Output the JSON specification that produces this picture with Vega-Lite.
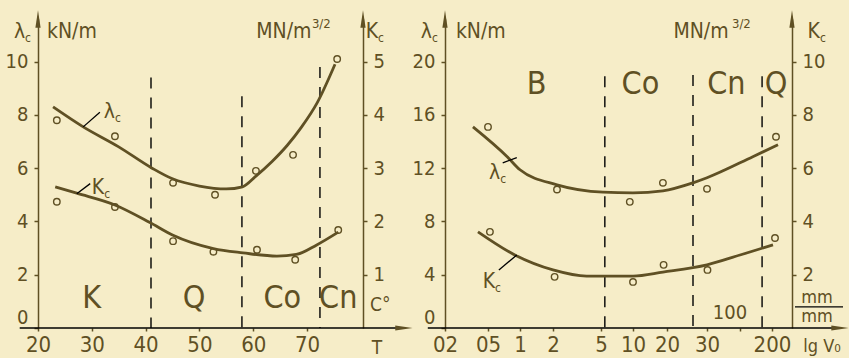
{
  "$schema": "https://vega.github.io/schema/vega-lite/v6.json",
  "background": "#f6edc8",
  "padding": {"left": 5, "top": 10, "right": 0, "bottom": 0},
  "spacing": 82,
  "bounds": "flush",
  "config": {
    "view": {"stroke": null},
    "mark": {"color": "#5f5024"},
    "text": {"font": "Liberation Sans Narrow, DejaVu Sans Condensed, sans-serif", "color": "#5f5024"},
    "axis": {
      "grid": false,
      "domainColor": "#5f5024",
      "domainWidth": 1.5,
      "tickColor": "#5f5024",
      "tickWidth": 1.5,
      "labelColor": "#5f5024",
      "labelFont": "Liberation Sans Narrow, DejaVu Sans Condensed, sans-serif",
      "labelFontSize": 20,
      "labelOverlap": false,
      "labelFlush": false
    }
  },
  "datasets": {
    "arrowsL": [{"x": 20, "y": 11.6, "dir": "up"}, {"x": 80.4, "y": 11.6, "dir": "up"}, {"x": 88, "y": 0, "dir": "right"}],
    "arrowsR": [{"x": 0.2, "y": 23.2, "dir": "up"}, {"x": 300, "y": 23.2, "dir": "up"}, {"x": 540, "y": 0, "dir": "right"}],
    "symL": [{"x": 17.6, "y": 11.13, "t": "λ", "s": "c"}, {"x": 83.2, "y": 11.13, "t": "K", "s": "c"}, {"x": 34.3, "y": 8.12, "t": "λ", "s": "c"}],
    "symLk": [{"x": 32.3, "y": 2.63, "t": "K", "s": "c"}],
    "symR": [{"x": 0.109, "y": 22.25, "t": "λ", "s": "c"}, {"x": 440, "y": 22.25, "t": "K", "s": "c"}, {"x": 0.69, "y": 11.65, "t": "λ", "s": "c"}],
    "symRk": [{"x": 0.61, "y": 1.73, "t": "K", "s": "c"}]
  },
  "hconcat": [
    {
      "width": 325,
      "height": 309,
      "encoding": {
        "x": {"field": "x", "type": "quantitative", "scale": {"domain": [20, 80.4], "nice": false, "zero": false},
              "axis": {"values": [20, 30, 40, 50, 60, 70], "domain": false, "title": null, "labelFontSize": 22, "tickSize": 3, "labelPadding": 3}}
      },
      "resolve": {"scale": {"y": "independent"}},
      "layer": [
        {
          "encoding": {"y": {"field": "y", "type": "quantitative", "scale": {"domain": [0, 11.6], "nice": false, "zero": false},
                             "axis": {"orient": "left", "values": [0, 2, 4, 6, 8, 10], "title": null, "tickSize": 4, "labelPadding": 6,
                                      "labelOffset": {"condition": {"test": "datum.value == 0", "value": -11}, "value": 0}}}},
          "layer": [
            {"data": {"values": [{"x": 41.0, "y": 9.4, "y2": 0}, {"x": 57.9, "y": 8.7, "y2": 0}, {"x": 72.4, "y": 9.8, "y2": 0}]},
             "mark": {"type": "rule", "strokeDash": [11, 9], "strokeWidth": 1.4}, "encoding": {"y2": {"field": "y2"}}},
            {"data": {"values": [{"x": 16.6, "x2": 88, "y": 0}]},
             "mark": {"type": "rule", "strokeWidth": 1.6}, "encoding": {"x2": {"field": "x2"}}},
            {"data": {"name": "arrowsL"},
             "mark": {"type": "point", "filled": true, "size": 300, "opacity": 1},
             "encoding": {"shape": {"field": "dir", "type": "nominal", "legend": null,
                                    "scale": {"domain": ["up", "right"], "range": ["M0,-1L0.3,1L-0.3,1Z", "M1,0L-1,0.3L-1,-0.3Z"]}}}},
            {"data": {"values": [
              {"x": 22.8, "y": 8.3}, {"x": 28.4, "y": 7.55}, {"x": 35, "y": 6.8}, {"x": 41.2, "y": 6.0},
              {"x": 45, "y": 5.6}, {"x": 50, "y": 5.33}, {"x": 55, "y": 5.22}, {"x": 58, "y": 5.3},
              {"x": 60.5, "y": 5.7}, {"x": 63.5, "y": 6.25}, {"x": 66.3, "y": 6.85}, {"x": 69, "y": 7.55},
              {"x": 71.9, "y": 8.46}, {"x": 75.2, "y": 9.9}]},
             "mark": {"type": "line", "interpolate": "monotone", "strokeWidth": 2.8}, "encoding": {}},
            {"data": {"values": [
              {"x": 23.5, "y": 7.8}, {"x": 34.3, "y": 7.2}, {"x": 45.1, "y": 5.45}, {"x": 52.9, "y": 5.0},
              {"x": 60.5, "y": 5.9}, {"x": 67.4, "y": 6.5}, {"x": 75.6, "y": 10.1}]},
             "mark": {"type": "point", "size": 42, "strokeWidth": 1.4, "opacity": 1}, "encoding": {}},
            {"data": {"values": [{"x": 28.4, "y": 7.55, "x2": 31.5, "y2": 8.1}]},
             "mark": {"type": "rule", "strokeWidth": 1.3}, "encoding": {"x2": {"field": "x2"}, "y2": {"field": "y2"}}},
            {"data": {"values": [{"x": 30, "y": 1.13, "t": "K"}, {"x": 49, "y": 1.13, "t": "Q"}, {"x": 65.4, "y": 1.13, "t": "Co"}, {"x": 75.8, "y": 1.13, "t": "Cn"}]},
             "mark": {"type": "text", "fontSize": 32}, "encoding": {"text": {"field": "t"}}},
            {"data": {"values": [{"x": 26.3, "y": 11.13, "t": "kN/m"}, {"x": 65.7, "y": 11.13, "t": "MN/m"}]},
             "mark": {"type": "text", "fontSize": 21}, "encoding": {"text": {"field": "t"}}},
            {"data": {"values": [{"x": 83.6, "y": 0.86, "t": "C°"}, {"x": 83, "y": -0.75, "t": "T"}]},
             "mark": {"type": "text", "fontSize": 19}, "encoding": {"text": {"field": "t"}}},
            {"data": {"values": [{"x": 70.9, "y": 11.4, "t": "3/2"}]},
             "mark": {"type": "text", "fontSize": 13, "align": "left"}, "encoding": {"text": {"field": "t"}}},
            {"data": {"name": "symL"},
             "mark": {"type": "text", "fontSize": 21, "align": "right"}, "encoding": {"text": {"field": "t"}}},
            {"data": {"name": "symL"},
             "mark": {"type": "text", "fontSize": 12, "align": "left", "dy": 6}, "encoding": {"text": {"field": "s"}}}
          ]
        },
        {
          "encoding": {"y": {"field": "y", "type": "quantitative", "scale": {"domain": [0, 5.8], "nice": false, "zero": false},
                             "axis": {"orient": "right", "values": [1, 2, 3, 4, 5], "title": null, "tickSize": 4, "labelPadding": 6}}},
          "layer": [
            {"data": {"values": [
              {"x": 23.2, "y": 2.65}, {"x": 27.2, "y": 2.53}, {"x": 34.3, "y": 2.31}, {"x": 40.8, "y": 1.98},
              {"x": 45.1, "y": 1.74}, {"x": 52.6, "y": 1.49}, {"x": 58.1, "y": 1.41}, {"x": 64.4, "y": 1.35},
              {"x": 68, "y": 1.38}, {"x": 71.8, "y": 1.56}, {"x": 75.8, "y": 1.8}]},
             "mark": {"type": "line", "interpolate": "monotone", "strokeWidth": 2.8}, "encoding": {}},
            {"data": {"values": [
              {"x": 23.5, "y": 2.37}, {"x": 34.3, "y": 2.27}, {"x": 45.1, "y": 1.63}, {"x": 52.6, "y": 1.43},
              {"x": 60.7, "y": 1.47}, {"x": 67.8, "y": 1.28}, {"x": 75.8, "y": 1.84}]},
             "mark": {"type": "point", "size": 42, "strokeWidth": 1.4, "opacity": 1}, "encoding": {}},
            {"data": {"values": [{"x": 27.2, "y": 2.52, "x2": 29.7, "y2": 2.71}]},
             "mark": {"type": "rule", "strokeWidth": 1.3}, "encoding": {"x2": {"field": "x2"}, "y2": {"field": "y2"}}},
            {"data": {"name": "symLk"},
             "mark": {"type": "text", "fontSize": 21, "align": "right"}, "encoding": {"text": {"field": "t"}}},
            {"data": {"name": "symLk"},
             "mark": {"type": "text", "fontSize": 12, "align": "left", "dy": 6}, "encoding": {"text": {"field": "s"}}}
          ]
        }
      ]
    },
    {
      "width": 347,
      "height": 309,
      "encoding": {
        "x": {"field": "x", "type": "quantitative",
              "scale": {"type": "linear", "domain": [0.2, 0.5, 1, 2, 5, 10, 20, 30, 100, 200, 300], "range": [0, 43, 75, 108, 156, 188, 222, 262, 295, 327, 347], "nice": false, "zero": false},
              "axis": {"values": [0.2, 0.5, 1, 2, 5, 10, 20, 30, 100, 200], "domain": false, "title": null, "labelFontSize": 22, "tickSize": 3, "labelPadding": 3,
                       "labelExpr": "datum.value == 0.2 ? '02' : datum.value == 0.5 ? '05' : datum.value == 100 ? '' : datum.label"}}
      },
      "resolve": {"scale": {"y": "independent"}},
      "layer": [
        {
          "encoding": {"y": {"field": "y", "type": "quantitative", "scale": {"domain": [0, 23.2], "nice": false, "zero": false},
                             "axis": {"orient": "left", "values": [0, 4, 8, 12, 16, 20], "title": null, "tickSize": 4, "labelPadding": 6,
                                      "labelOffset": {"condition": {"test": "datum.value == 0", "value": -11}, "value": 0}}}},
          "layer": [
            {"data": {"values": [{"x": 5.6, "y": 18.9, "y2": 0}, {"x": 26.5, "y": 19.0, "y2": 0}, {"x": 169, "y": 18.9, "y2": 0}]},
             "mark": {"type": "rule", "strokeDash": [11, 9], "strokeWidth": 1.4}, "encoding": {"y2": {"field": "y2"}}},
            {"data": {"values": [{"x": 0.08, "x2": 540, "y": 0}]},
             "mark": {"type": "rule", "strokeWidth": 1.6}, "encoding": {"x2": {"field": "x2"}}},
            {"data": {"name": "arrowsR"},
             "mark": {"type": "point", "filled": true, "size": 300, "opacity": 1},
             "encoding": {"shape": {"field": "dir", "type": "nominal", "legend": null,
                                    "scale": {"domain": ["up", "right"], "range": ["M0,-1L0.3,1L-0.3,1Z", "M1,0L-1,0.3L-1,-0.3Z"]}}}},
            {"data": {"values": [
              {"x": 0.395, "y": 15.1}, {"x": 0.8, "y": 12.86}, {"x": 1, "y": 11.88}, {"x": 2.25, "y": 10.75},
              {"x": 5.3, "y": 10.2}, {"x": 10, "y": 10.15}, {"x": 18.8, "y": 10.3}, {"x": 26.5, "y": 10.9},
              {"x": 30, "y": 11.28}, {"x": 140, "y": 12.86}, {"x": 230, "y": 13.76}]},
             "mark": {"type": "line", "interpolate": "monotone", "strokeWidth": 2.8}, "encoding": {}},
            {"data": {"values": [
              {"x": 0.5, "y": 15.1}, {"x": 2.25, "y": 10.4}, {"x": 9.5, "y": 9.47}, {"x": 18.8, "y": 10.9},
              {"x": 30, "y": 10.45}, {"x": 220, "y": 14.36}]},
             "mark": {"type": "point", "size": 42, "strokeWidth": 1.4, "opacity": 1}, "encoding": {}},
            {"data": {"values": [{"x": 0.73, "y": 12.4, "x2": 0.95, "y2": 12.8}]},
             "mark": {"type": "rule", "strokeWidth": 1.3}, "encoding": {"x2": {"field": "x2"}, "y2": {"field": "y2"}}},
            {"data": {"values": [{"x": 1.5, "y": 18.3, "t": "B"}, {"x": 12.2, "y": 18.3, "t": "Co"}, {"x": 71, "y": 18.3, "t": "Cn"}, {"x": 220, "y": 18.3, "t": "Q"}]},
             "mark": {"type": "text", "fontSize": 32}, "encoding": {"text": {"field": "t"}}},
            {"data": {"values": [{"x": 0.45, "y": 22.25, "t": "kN/m"}, {"x": 28.5, "y": 22.25, "t": "MN/m"}]},
             "mark": {"type": "text", "fontSize": 21}, "encoding": {"text": {"field": "t"}}},
            {"data": {"values": [{"x": 425, "y": 2.26, "t": "mm"}, {"x": 425, "y": 0.83, "t": "mm"}, {"x": 450, "y": -1.43, "t": "lg V₀"}]},
             "mark": {"type": "text", "fontSize": 18}, "encoding": {"text": {"field": "t"}}},
            {"data": {"values": [{"x": 100, "y": 1.1, "t": "100"}]},
             "mark": {"type": "text", "fontSize": 20, "dx": -10}, "encoding": {"text": {"field": "t"}}},
            {"data": {"values": [{"x": 315, "x2": 555, "y": 1.58}]},
             "mark": {"type": "rule", "strokeWidth": 1.3}, "encoding": {"x2": {"field": "x2"}}},
            {"data": {"values": [{"x": 83, "y": 22.8, "t": "3/2"}]},
             "mark": {"type": "text", "fontSize": 13, "align": "left"}, "encoding": {"text": {"field": "t"}}},
            {"data": {"name": "symR"},
             "mark": {"type": "text", "fontSize": 21, "align": "right"}, "encoding": {"text": {"field": "t"}}},
            {"data": {"name": "symR"},
             "mark": {"type": "text", "fontSize": 12, "align": "left", "dy": 6}, "encoding": {"text": {"field": "s"}}}
          ]
        },
        {
          "encoding": {"y": {"field": "y", "type": "quantitative", "scale": {"domain": [0, 11.6], "nice": false, "zero": false},
                             "axis": {"orient": "right", "values": [2, 4, 6, 8, 10], "title": null, "tickSize": 4, "labelPadding": 6}}},
          "layer": [
            {"data": {"values": [
              {"x": 0.43, "y": 3.61}, {"x": 0.92, "y": 2.74}, {"x": 2, "y": 2.18}, {"x": 4.1, "y": 1.95},
              {"x": 10, "y": 1.95}, {"x": 18.8, "y": 2.1}, {"x": 30, "y": 2.37}, {"x": 100, "y": 2.74}, {"x": 205, "y": 3.12}]},
             "mark": {"type": "line", "interpolate": "monotone", "strokeWidth": 2.8}, "encoding": {}},
            {"data": {"values": [
              {"x": 0.53, "y": 3.61}, {"x": 2.1, "y": 1.92}, {"x": 10, "y": 1.73}, {"x": 19, "y": 2.37},
              {"x": 31, "y": 2.18}, {"x": 215, "y": 3.38}]},
             "mark": {"type": "point", "size": 42, "strokeWidth": 1.4, "opacity": 1}, "encoding": {}},
            {"data": {"values": [{"x": 0.67, "y": 2.18, "x2": 0.95, "y2": 2.74}]},
             "mark": {"type": "rule", "strokeWidth": 1.3}, "encoding": {"x2": {"field": "x2"}, "y2": {"field": "y2"}}},
            {"data": {"name": "symRk"},
             "mark": {"type": "text", "fontSize": 21, "align": "right"}, "encoding": {"text": {"field": "t"}}},
            {"data": {"name": "symRk"},
             "mark": {"type": "text", "fontSize": 12, "align": "left", "dy": 6}, "encoding": {"text": {"field": "s"}}}
          ]
        }
      ]
    }
  ]
}
